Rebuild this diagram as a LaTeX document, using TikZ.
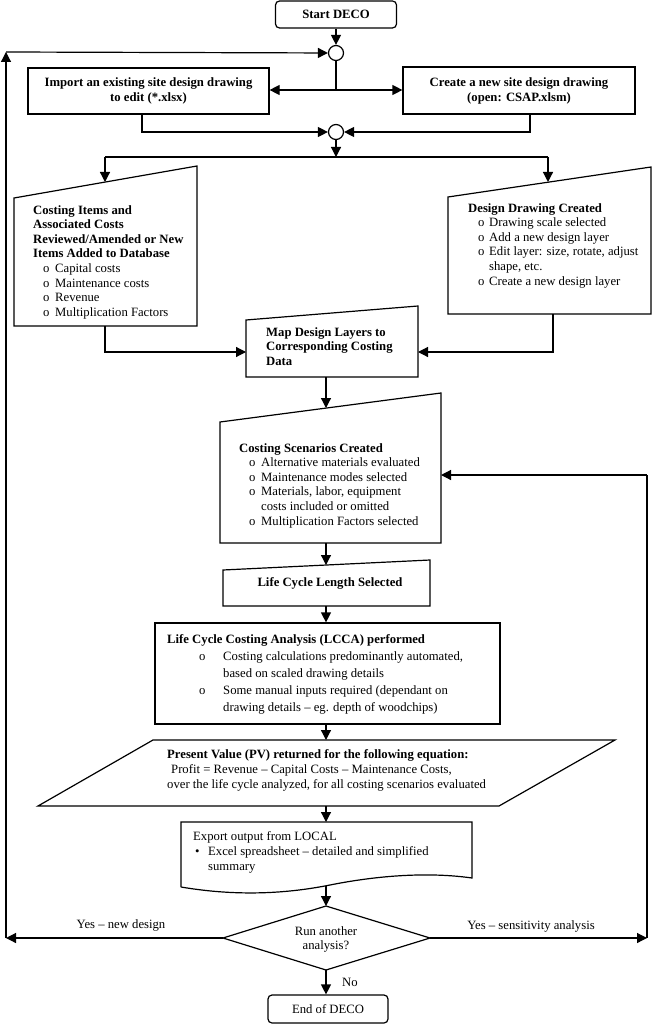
\documentclass[tikz,border=0pt]{standalone}
\usepackage{fontspec}
\setmainfont{Liberation Serif}
\usetikzlibrary{arrows.meta,calc}
\newcommand{\obul}[2]{\hspace*{#1}\makebox[#2][l]{o}}
\begin{document}
\begin{tikzpicture}[x=1pt,y=-1pt,
 ln/.style={line width=1.2pt},
 arr/.style={ln,-{Triangle[length=10pt,width=10pt]}},
 box/.style={draw,ln,inner sep=0,align=center,font=\bfseries\fontsize{12.7}{15}\selectfont},
 txt/.style={inner sep=0,anchor=north west,align=left,font=\fontsize{12.7}{14.6}\selectfont},
 lbl/.style={inner sep=0,align=center,font=\fontsize{12.7}{14}\selectfont},
 junction/.style={draw,ln,circle,minimum size=15pt,inner sep=0}]
\useasboundingbox (0,0) rectangle (653,1024);

% ---------- top ----------
\node[box,rounded corners=4pt,minimum width=121pt,minimum height=27pt] (start) at (336,14.5) {Start DECO};
\node[junction] (c1) at (336,53) {};
\node[box,minimum width=241pt,minimum height=46pt] (imp) at (148.5,91) {Import an existing site design drawing\\to edit (*.xlsx)};
\node[box,minimum width=232pt,minimum height=47pt] (cre) at (519,90.5) {Create a new site design drawing\\(open: CSAP.xlsm)};
\node[junction] (c2) at (336,132) {};

\coordinate (j1) at (336,90);
\draw[arr] (start) -- (c1);
\draw[ln] (c1) -- (j1);
\draw[arr] (j1) -- (j1 -| imp.east);
\draw[arr] (j1) -- (j1 -| cre.west);
\draw[arr] ([xshift=-6.5pt]imp.south) |- (c2);
\draw[arr] ([xshift=11pt]cre.south) |- (c2);

% ---------- costing items / design drawing ----------
\draw[ln] (14,198) -- (197,166) -- (197,326) -- (14,326) -- cycle;
\node[txt] (ciT) at (33,205) {\textbf{Costing Items and}\\\textbf{Associated Costs}\\\textbf{Reviewed/Amended or New}\\\textbf{Items Added to Database}\\
\obul{10pt}{12pt}Capital costs\\\obul{10pt}{12pt}Maintenance costs\\\obul{10pt}{12pt}Revenue\\\obul{10pt}{12pt}Multiplication Factors};

\draw[ln] (448,197) -- (651,167) -- (651,314) -- (448,314) -- cycle;
\node[txt] (ddT) at (468,203) {\textbf{Design Drawing Created}\\\obul{10pt}{11pt}Drawing scale selected\\\obul{10pt}{11pt}Add a new design layer\\\obul{10pt}{11pt}Edit layer: size, rotate, adjust\\\hspace*{21pt}shape, etc.\\\obul{10pt}{11pt}Create a new design layer};

\coordinate (j2) at (336,157);
\coordinate (jl) at (105,157);
\coordinate (jr) at (548,157);
\coordinate (ciIn) at (105,182);
\coordinate (ddIn) at (548,182);
\draw[arr] (c2) -- (j2);
\draw[ln] (jl) -- (jr);
\draw[arr] (jl) -- (ciIn);
\draw[arr] (jr) -- (ddIn);

% ---------- map ----------
\draw[ln] (246,320) -- (418,306) -- (418,377) -- (246,377) -- cycle;
\node[txt] (mapT) at (266,327) {\textbf{Map Design Layers to}\\\textbf{Corresponding Costing}\\\textbf{Data}};
\coordinate (ciOut) at (105,326);
\coordinate (ddOut) at (553,314);
\coordinate (mapW) at (246,352);
\coordinate (mapE) at (418,352);
\draw[arr] (ciOut) |- (mapW);
\draw[arr] (ddOut) |- (mapE);

% ---------- scenarios ----------
\draw[ln] (220,422) -- (441,393) -- (441,543) -- (220,543) -- cycle;
\node[txt] (scT) at (239,443) {\textbf{Costing Scenarios Created}\\\obul{10pt}{12pt}Alternative materials evaluated\\\obul{10pt}{12pt}Maintenance modes selected\\\obul{10pt}{12pt}Materials, labor, equipment\\\hspace*{22pt}costs included or omitted\\\obul{10pt}{12pt}Multiplication Factors selected};
\coordinate (mapS) at (326,377);
\coordinate (scIn) at (326,408);
\coordinate (scE) at (441,475);
\draw[arr] (mapS) -- (scIn);

% ---------- life cycle length ----------
\draw[ln] (223,570) -- (430,560) -- (430,606) -- (223,606) -- cycle;
\node[lbl,font=\bfseries\fontsize{12.7}{14}\selectfont] (lclT) at (330,583) {Life Cycle Length Selected};
\coordinate (scS) at (326,543);
\coordinate (lcIn) at (326,565);
\coordinate (lcS) at (326,606);
\draw[arr] (scS) -- (lcIn);

% ---------- LCCA ----------
\node[draw,ln,inner sep=0,minimum width=345pt,minimum height=101pt] (lcca) at (327.5,673.5) {};
\node[txt,font=\fontsize{12.7}{17}\selectfont] (lccaT) at (167,634) {\textbf{Life Cycle Costing Analysis (LCCA) performed}\\\obul{32pt}{24pt}Costing calculations predominantly automated,\\\hspace*{56pt}based on scaled drawing details\\\obul{32pt}{24pt}Some manual inputs required (dependant on\\\hspace*{56pt}drawing details – eg. depth of woodchips)};
\draw[arr] (lcS) -- (lcS |- lcca.north);

% ---------- PV ----------
\draw[ln] (153,740) -- (615,740) -- (499,806) -- (38,806) -- cycle;
\node[txt,font=\fontsize{12.7}{15}\selectfont] (pvT) at (167,749) {\textbf{Present Value (PV) returned for the following equation:}\\\hspace*{4pt}Profit = Revenue – Capital Costs – Maintenance Costs,\\over the life cycle analyzed, for all costing scenarios evaluated};
\coordinate (pvTop) at (326,740);
\coordinate (pvBot) at (326,806);
\draw[arr] (lcS |- lcca.south) -- (pvTop);

% ---------- export ----------
\draw[ln] (181,887) -- (181,822) -- (472,822) -- (472,878)
  .. controls (430,872) and (380,875) .. (330,885)
  .. controls (290,893) and (240,897) .. (181,887);
\node[txt,font=\fontsize{12.7}{15}\selectfont] (exT) at (193,831) {Export output from LOCAL\\\hspace*{2pt}\makebox[13pt][l]{\textbullet}Excel spreadsheet – detailed and simplified\\\hspace*{15pt}summary};
\coordinate (exTop) at (326,822);
\coordinate (exBot) at (326,886);
\draw[arr] (pvBot) -- (exTop);

% ---------- decision ----------
\draw[ln] (223,938) -- (326,906) -- (430,938) -- (326,970) -- cycle;
\node[lbl] (diT) at (326,939) {Run another\\analysis?};
\coordinate (diTop) at (326,906);
\coordinate (diBot) at (326,970);
\coordinate (diW) at (223,938);
\coordinate (diE) at (430,938);
\draw[arr] (exBot) -- (diTop);

\node[box,rounded corners=4pt,minimum width=120pt,minimum height=28pt,font=\fontsize{12.7}{14}\selectfont] (end) at (328,1009) {End of DECO};
\draw[arr] (diBot) -- (diBot |- end.north);
\node[lbl] (noL) at (350,982) {No};

% ---------- loops ----------
\coordinate (L1) at (6,938);
\coordinate (L2) at (6,52);
\draw[arr] (diW) -- (L1);
\draw[arr] (L1) -- (L2);
\draw[arr] (L2) -- (c1);
\node[lbl] (yesL) at (121,925) {Yes – new design};

\coordinate (R1) at (647,938);
\coordinate (R2) at (647,475);
\draw[arr] (diE) -- (R1);
\draw[ln] (R1) -- (R2);
\draw[arr] (R2) -- (scE);
\node[lbl] (yesR) at (531,926) {Yes – sensitivity analysis};
\end{tikzpicture}
\end{document}
